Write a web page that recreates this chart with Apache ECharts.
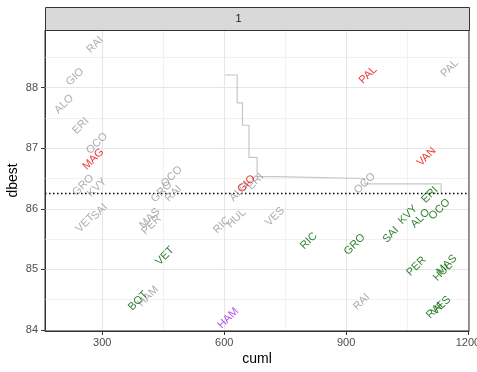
<!DOCTYPE html>
<html><head><meta charset="utf-8">
<script src="https://cdn.jsdelivr.net/npm/echarts@6/dist/echarts.min.js"></script>
<style>html,body{margin:0;padding:0;background:#fff}#c{width:477px;height:372px}</style>
</head><body><div id="c"></div>
<script>
// ---- data ----
const xTicks = [300, 600, 900, 1200];
const xMinor = [450, 750, 1050];
const yTicks = [84, 85, 86, 87, 88];
const yMinor = [84.5, 85.5, 86.5, 87.5, 88.5];
const panelLabel = '1';
const refLine = 86.25;

const stepCuml  = [602, 632, 645, 661, 681, 729, 946, 1134];
const stepDbest = [88.21, 87.75, 87.38, 86.85, 86.53, 86.50, 86.41, 86.25];

const greyNames = ['RAI','GIO','ALO','ERI','OCO','GRO','KVY','SAI','VET','MAS','PER','GRO','OCO','RAI','HAM','RIC','HUL','ALO','ERI','VES','OCO','RAI','PAL'];
const greyCuml  = [282, 233, 206, 247, 287, 253, 287, 293, 258, 417, 421, 446, 471, 475, 413, 594, 630, 637, 677, 725, 946, 938, 1155];
const greyDbest = [88.71, 88.18, 87.73, 87.37, 87.08, 86.39, 86.35, 85.95, 85.76, 85.84, 85.73, 86.28, 86.53, 86.25, 84.55, 85.73, 85.84, 86.28, 86.45, 85.87, 86.42, 84.46, 88.32];

const greenNames = ['BOT','VET','RIC','GRO','SAI','KVY','ALO','ERI','OCO','PER','HUL','MAS','VES','RAI'];
const greenCuml  = [388, 454, 808, 921, 1010, 1052, 1083, 1106, 1130, 1073, 1138, 1148, 1134, 1118];
const greenDbest = [84.48, 85.22, 85.47, 85.41, 85.57, 85.90, 85.84, 86.23, 85.99, 85.05, 84.96, 85.07, 84.40, 84.32];

const redNames = ['MAG','GIO','PAL','VAN'];
const redCuml  = [278, 655, 954, 1098];
const redDbest = [86.82, 86.41, 88.21, 86.86];

const purpleNames = ['HAM'];
const purpleCuml  = [610];
const purpleDbest = [84.19];

// ---- build ----
const FONT = 'Liberation Sans, Arial, Helvetica, sans-serif';
function pts(names, xs, ys) { return names.map((n, i) => ({ name: n, value: [xs[i], ys[i]] })); }
function stepPath(xs, ys) {
  const out = [];
  for (let i = 0; i < xs.length; i++) {
    out.push([xs[i], ys[i]]);
    if (i < xs.length - 1) out.push([xs[i + 1], ys[i]]);
  }
  return out;
}
function labelSeries(names, xs, ys, color) {
  return {
    type: 'scatter', data: pts(names, xs, ys), symbolSize: 0, z: 5, silent: true,
    label: { show: true, formatter: p => p.name, position: 'inside', rotate: 45,
      color: color, fontSize: 11, fontFamily: FONT, align: 'center', verticalAlign: 'middle' }
  };
}
const gridLines = [];
xMinor.forEach(v => gridLines.push({ xAxis: v, lineStyle: { color: '#f1f1f1', width: 1, type: 'solid' } }));
yMinor.forEach(v => gridLines.push({ yAxis: v, lineStyle: { color: '#f1f1f1', width: 1, type: 'solid' } }));
xTicks.forEach(v => gridLines.push({ xAxis: v, lineStyle: { color: '#e6e6e6', width: 1.1, type: 'solid' } }));
yTicks.forEach(v => gridLines.push({ yAxis: v, lineStyle: { color: '#e6e6e6', width: 1.1, type: 'solid' } }));

const chart = echarts.init(document.getElementById('c'), null, { renderer: 'canvas' });
chart.setOption({
  animation: false,
  grid: { left: 45, right: 8, top: 30, bottom: 41, containLabel: false, outerBoundsMode: 'none',
    show: true, borderColor: '#333333', borderWidth: 1, backgroundColor: 'transparent', z: 6 },
  xAxis: {
    type: 'value', min: 159, max: 1202.5,
    name: 'cuml', nameLocation: 'middle', nameGap: 21, nameMoveOverlap: false,
    nameTextStyle: { fontSize: 14, color: '#000', fontFamily: FONT },
    axisLine: { show: true, onZero: false, lineStyle: { color: '#333333' } },
    axisTick: { show: true, length: 4, customValues: xTicks, lineStyle: { color: '#333333' } },
    axisLabel: { customValues: xTicks, fontSize: 11, color: '#4d4d4d', fontFamily: FONT, margin: 6,
      formatter: v => String(v) },
    splitLine: { show: false }
  },
  yAxis: {
    type: 'value', min: 83.98, max: 88.954,
    name: 'dbest', nameLocation: 'middle', nameGap: 25, nameMoveOverlap: false,
    nameTextStyle: { fontSize: 14, color: '#000', fontFamily: FONT },
    axisLine: { show: true, onZero: false, lineStyle: { color: '#333333' } },
    axisTick: { show: true, length: 4, customValues: yTicks, lineStyle: { color: '#333333' } },
    axisLabel: { customValues: yTicks, fontSize: 11, color: '#4d4d4d', fontFamily: FONT, margin: 7,
      formatter: v => String(v) },
    splitLine: { show: false }
  },
  graphic: [
    { type: 'rect', left: 45, top: 7, shape: { width: 424, height: 23 },
      style: { fill: '#d9d9d9', stroke: '#333333', lineWidth: 1 }, z: 10 },
    { type: 'text', left: 'center', top: 13, z: 11,
      style: { text: panelLabel, fontSize: 11, fill: '#1a1a1a', font: '11px ' + FONT } }
  ],
  series: [
    { type: 'line', data: [], z: 1, silent: true,
      markLine: { silent: true, symbol: ['none', 'none'], label: { show: false }, z: 1, animation: false, data: gridLines } },
    { type: 'line', data: stepPath(stepCuml, stepDbest), showSymbol: false, symbol: 'none', z: 3, silent: true,
      lineStyle: { color: '#c6c6c6', width: 1.2 } },
    { type: 'line', data: [], z: 4, silent: true,
      markLine: { silent: true, symbol: ['none', 'none'], label: { show: false }, z: 4, animation: false,
        data: [{ yAxis: refLine, lineStyle: { color: '#000', width: 1.3, type: [1.5, 2.5] } }] } },
    labelSeries(greyNames, greyCuml, greyDbest, '#999999'),
    labelSeries(greenNames, greenCuml, greenDbest, '#006400'),
    labelSeries(redNames, redCuml, redDbest, '#ee0000'),
    labelSeries(purpleNames, purpleCuml, purpleDbest, '#a020f0')
  ]
});
</script></body></html>
